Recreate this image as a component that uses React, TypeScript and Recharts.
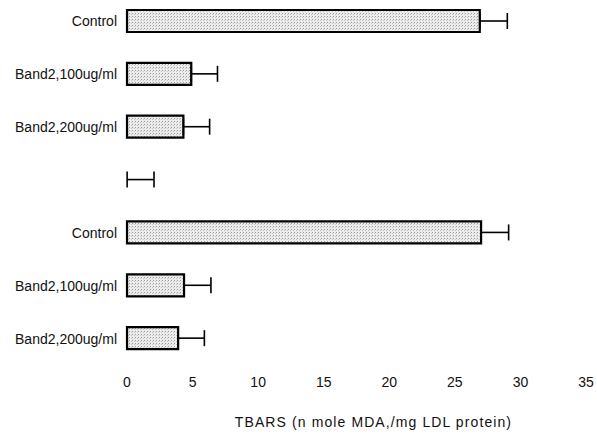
import { Bar, BarChart, Cell, ErrorBar, XAxis, YAxis } from 'recharts'

const categories = [
  'Control',
  'Band2,100ug/ml',
  'Band2,200ug/ml',
  '',
  'Control',
  'Band2,100ug/ml',
  'Band2,200ug/ml',
]
// the empty row only carries an error line in the original figure
const tbarsValues = [26.9, 4.9, 4.3, 0.01, 27.0, 4.35, 3.9]
const tbarsErrors = [2.1, 2.0, 2.0, 2.05, 2.1, 2.05, 2.0]
const xTicks = [0, 5, 10, 15, 20, 25, 30, 35]

const data = categories.map((name, i) => ({
  name,
  value: tbarsValues[i],
  err: [0, tbarsErrors[i]],
}))

const font = 'Liberation Sans, Arial, sans-serif'

export default function App() {
  return (
    <div style={{ position: 'absolute', left: 0, top: -5 }}>
      <BarChart
        width={597}
        height={441}
        data={data}
        layout="vertical"
        margin={{ top: 0, right: 11, bottom: 0, left: 0 }}
        barCategoryGap={15}
      >
        <defs>
          <pattern id="stipple" width="3" height="3" patternUnits="userSpaceOnUse">
            <rect width="3" height="3" fill="#ececec" />
            <rect x="0" y="0" width="1" height="1" fill="#9a9a9a" />
            <rect x="2" y="1" width="1" height="1" fill="#c4c4c4" />
          </pattern>
        </defs>
        <XAxis
          type="number"
          domain={[0, 35]}
          ticks={xTicks}
          axisLine={false}
          tickLine={false}
          tickMargin={6}
          height={71}
          tick={{ fill: '#111', fontSize: 14, fontFamily: font }}
          label={{
            value: 'TBARS (n mole MDA,/mg LDL protein)',
            position: 'insideBottom',
            offset: 9,
            dx: 17,
            fill: '#111',
            fontSize: 14,
            fontFamily: font,
            letterSpacing: 1.1,
          }}
        />
        <YAxis
          type="category"
          dataKey="name"
          width={127}
          axisLine={false}
          tickLine={false}
          tickMargin={4}
          interval={0}
          tick={{ fill: '#111', fontSize: 14, fontFamily: font }}
        />
        <Bar
          dataKey="value"
          fill="url(#stipple)"
          stroke="#000"
          strokeWidth={2.2}
          barSize={22}
          isAnimationActive={false}
        >
          {data.map((d, i) => (
            <Cell
              key={i}
              fill={d.name === '' ? 'none' : 'url(#stipple)'}
              stroke={d.name === '' ? 'none' : '#000'}
            />
          ))}
          <ErrorBar dataKey="err" direction="x" width={8} stroke="#000" strokeWidth={1.6} />
        </Bar>
      </BarChart>
    </div>
  )
}
